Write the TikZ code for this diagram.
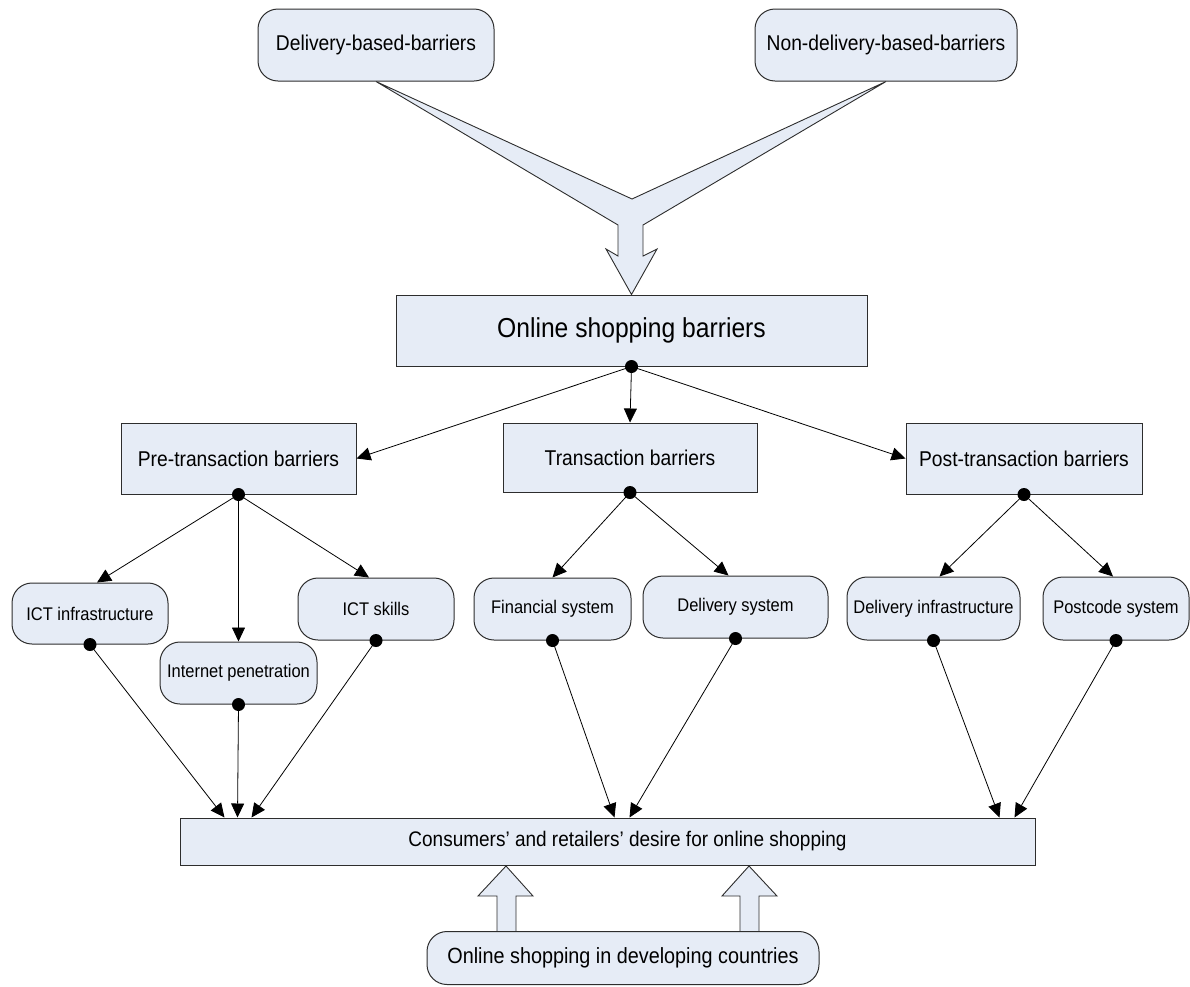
\documentclass[tikz,border=0pt]{standalone}
\usepackage{fontspec}
\setmainfont[FakeStretch=0.9]{Liberation Sans}
\usetikzlibrary{arrows.meta,calc,backgrounds}
\definecolor{boxfill}{RGB}{230,236,246}
\definecolor{boxline}{RGB}{45,45,45}

\begin{document}
\begin{tikzpicture}[x=1pt,y=-1pt,
  sqbox/.style={draw=boxline, fill=boxfill, line width=1pt, inner sep=0pt, align=center},
  rbox/.style={sqbox, rounded corners=20pt},
  bigtext/.style={font=\fontsize{27.4}{30}\selectfont},
  midtext/.style={font=\fontsize{21.4}{24}\selectfont},
  smalltext/.style={font=\fontsize{18.3}{21}\selectfont},
  conn/.style={line width=0.8pt, -{Triangle[length=14pt,width=13pt]}},
  dotmark/.style={fill=black},
  blockarrow/.style={draw=boxline, fill=boxfill, line width=0.9pt, line join=miter}]

\useasboundingbox (0,0) rectangle (1190,986);

% top sources
\node[rbox, midtext, minimum width=236pt, minimum height=72pt] (dbb) at (376,45) {Delivery-based-barriers};
\node[rbox, midtext, minimum width=262pt, minimum height=72pt] (ndbb) at (886,45) {Non-delivery-based-barriers};

% main box
\node[sqbox, bigtext, minimum width=471pt, minimum height=71pt] (osb) at (631.5,330.5) {Online shopping barriers};

% barrier groups
\node[sqbox, midtext, minimum width=235pt, minimum height=71pt] (pre) at (238.5,458.5) {Pre-transaction barriers};
\node[sqbox, midtext, minimum width=254pt, minimum height=69pt] (tb) at (630,457.5) {Transaction barriers};
\node[sqbox, midtext, minimum width=236pt, minimum height=71pt] (post) at (1024,458.5) {Post-transaction barriers};

% factors
\node[rbox, smalltext, minimum width=156pt, minimum height=61pt] (infra) at (90,613.5) {ICT infrastructure};
\node[rbox, smalltext, minimum width=157pt, minimum height=62pt] (inet) at (238.5,673) {Internet penetration};
\node[rbox, smalltext, minimum width=156pt, minimum height=62pt] (skills) at (376,609) {ICT skills};
\node[rbox, smalltext, minimum width=157pt, minimum height=62pt] (fin) at (552.5,609) {Financial system};
\node[rbox, smalltext, minimum width=185pt, minimum height=62pt] (dsys) at (735.5,607) {Delivery system};
\node[rbox, smalltext, minimum width=173pt, minimum height=63pt] (dinf) at (933.5,608.5) {Delivery infrastructure};
\node[rbox, smalltext, minimum width=146pt, minimum height=63pt] (pcode) at (1116,608.5) {Postcode system};

% outcome and context (label sits slightly right of the box centre)
\node[sqbox, font=\fontsize{21.1}{24}\selectfont, minimum width=855pt, minimum height=47pt] (cons) at (607.5,841.5) {\hspace*{40pt}Consumers’ and retailers’ desire for online shopping};
\node[rbox, font=\fontsize{22}{25}\selectfont, minimum width=392pt, minimum height=53pt] (dev) at (623,958) {Online shopping in developing countries};

% block arrows behind the boxes
\begin{scope}[on background layer]
  \draw[blockarrow] (dbb.south) -- (632,199) -- (ndbb.south) -- (643,225) -- (643,256)
    -- (657,249) -- (osb.north) -- (606,249) -- (618,256) -- (618,225) -- cycle;
  \draw[blockarrow] (497,933) -- (497,896) -- (478,896) -- (506,866) -- (533,896)
    -- (516,896) -- (516,933);
  \draw[blockarrow] (740,933) -- (740,896) -- (722,896) -- (749,866) -- (777,896)
    -- (759,896) -- (759,933);
\end{scope}

% connectors
\draw[conn] (osb.south) -- (pre.east);
\draw[conn] (osb.south) -- (tb.north);
\draw[conn] (osb.south) -- (post.west);

\draw[conn] (pre.south) -- ([xshift=7pt]infra.north);
\draw[conn] (pre.south) -- (inet.north);
\draw[conn] (pre.south) -- ([xshift=-7pt]skills.north);

\draw[conn] (tb.south) -- (fin.north);
\draw[conn] (tb.south) -- ([xshift=-7pt]dsys.north);

\draw[conn] (post.south) -- ([xshift=6pt]dinf.north);
\draw[conn] (post.south) -- ([xshift=-3pt]pcode.north);

\draw[conn] (infra.south) -- ([xshift=45pt]cons.north west);
\draw[conn] (inet.south) -- ([xshift=58pt]cons.north west);
\draw[conn] (skills.south) -- ([xshift=72pt]cons.north west);
\draw[conn] (fin.south) -- ([xshift=435pt]cons.north west);
\draw[conn] (dsys.south) -- ([xshift=450pt]cons.north west);
\draw[conn] (dinf.south) -- ([xshift=820pt]cons.north west);
\draw[conn] (pcode.south) -- ([xshift=835pt]cons.north west);

% junction dots
\foreach \n in {osb,pre,tb,post,infra,inet,skills,fin,dsys,dinf,pcode}
  \fill[dotmark] (\n.south) circle (6.5pt);

\end{tikzpicture}
\end{document}
